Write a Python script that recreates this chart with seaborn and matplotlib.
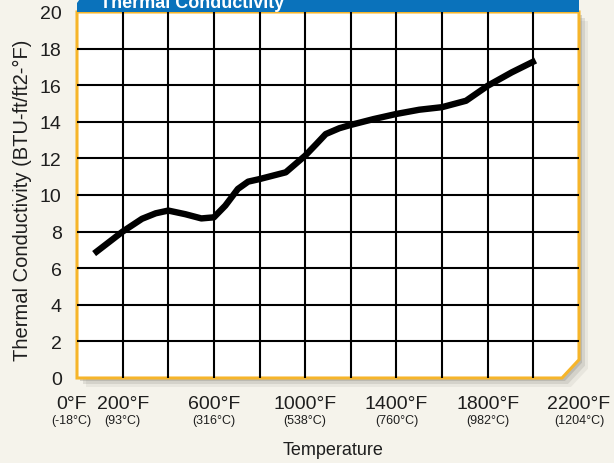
import matplotlib
matplotlib.use("Agg")
import matplotlib.pyplot as plt
import matplotlib.transforms as mtransforms
from matplotlib.patches import Polygon
import pandas as pd
import seaborn as sns

# values
temp_f = [75, 200, 285, 345, 400, 475, 545, 600, 650, 705, 750, 800, 915,
          1000, 1050, 1090, 1150, 1200, 1300, 1400, 1500, 1600, 1705, 1800,
          1905, 2010]
conductivity = [6.8, 8.0, 8.7, 9.0, 9.15, 8.95, 8.72, 8.78, 9.42, 10.33,
                10.73, 10.87, 11.24, 12.15, 12.8, 13.33, 13.65, 13.83, 14.15,
                14.43, 14.66, 14.8, 15.15, 15.97, 16.7, 17.35]

xtick_values = [0, 200, 600, 1000, 1400, 1800, 2200]
xtick_f = ["0°F", "200°F", "600°F", "1000°F", "1400°F", "1800°F", "2200°F"]
xtick_c = ["(-18°C)", "(93°C)", "(316°C)", "(538°C)", "(760°C)", "(982°C)",
           "(1204°C)"]
ytick_values = list(range(0, 21, 2))

BG = "#f5f3eb"
ORANGE = "#f6b52a"
BLUE = "#0a72bb"
INK = "#1e1e1e"

sns.set_theme(style="white")
plt.rcParams['font.family'] = ['Liberation Sans', 'DejaVu Sans']

fig = plt.figure(figsize=(6.14, 4.64), dpi=100, facecolor=BG)
ax = fig.add_axes([77 / 614, 85 / 464, 502 / 614, 366 / 464])
ax.patch.set_visible(False)
for s in ax.spines.values():
    s.set_visible(False)

# drop shadow behind the panel
px = 1 / 502
py = 1 / 366
for off, alpha in [(9, 0.12), (6, 0.22), (3, 0.35)]:
    sh = Polygon([(off * px, -off * py), (1 - 0.034 + off * px, -off * py),
                  (1 + off * px, 0.05 - off * py), (1 + off * px, 1 - off * py),
                  (off * px, 1 - off * py)],
                 closed=True, transform=ax.transAxes, facecolor="#8f8c84",
                 edgecolor="none", alpha=alpha, zorder=0, clip_on=False)
    ax.add_patch(sh)

panel = Polygon([(0, 0), (1 - 0.034, 0), (1, 0.05), (1, 1), (0, 1)],
                closed=True, transform=ax.transAxes, facecolor="white",
                edgecolor=ORANGE, linewidth=2.2, zorder=0.5, clip_on=False)
ax.add_patch(panel)

# grid
ax.set_xlim(0, 2200)
ax.set_ylim(0, 20)
for x in range(200, 2100, 200):
    ln = ax.axvline(x, color="black", linewidth=1.5, zorder=1)
    ln.set_clip_path(panel)
for y in ytick_values[1:-1]:
    ln = ax.axhline(y, color="black", linewidth=1.5, zorder=1)
    ln.set_clip_path(panel)

df = pd.DataFrame({"temp": temp_f, "k": conductivity})
sns.lineplot(data=df, x="temp", y="k", color="black", linewidth=4.6,
             ax=ax, zorder=3, solid_capstyle="butt", solid_joinstyle="round")
ax.set_xlabel("")
ax.set_ylabel("")

# ticks
ax.set_yticks(ytick_values)
ax.set_yticklabels([str(v) for v in ytick_values], fontsize=14, color=INK)
ax.tick_params(axis="y", length=0, pad=11)
ax.set_xticks(xtick_values)
ax.set_xticklabels([])
ax.tick_params(axis="x", which="both", length=0)

trans = mtransforms.blended_transform_factory(ax.transData, fig.transFigure)
for xv, f, c in zip(xtick_values, xtick_f, xtick_c):
    dx = -25 if xv == 0 else 0
    ax.text(xv + dx, (464 - 405) / 464, f, transform=trans, ha="center",
            va="center", fontsize=14, color=INK)
    ax.text(xv + dx, (464 - 421) / 464, c, transform=trans, ha="center",
            va="center", fontsize=9, color=INK)

fig.text(333 / 614, (464 - 451) / 464, "Temperature", ha="center",
         va="center", fontsize=13, color=INK)
fig.text(22 / 614, (464 - 200) / 464, "Thermal Conductivity (BTU-ft/ft2-°F)",
         ha="center", va="center", rotation=90, fontsize=14.5, color=INK)

# blue title banner, cut off by the top of the figure
top = 1 + 20 * py
banner = Polygon([(0, 1), (0, 1 + 9 * py), (8 * px, top), (1, top), (1, 1)],
                 closed=True, transform=ax.transAxes, facecolor=BLUE,
                 edgecolor="none", zorder=4, clip_on=False)
ax.add_patch(banner)
fig.text(100 / 614, (464 - 8) / 464, "Thermal Conductivity", ha="left",
         va="baseline", fontsize=13, fontweight="bold", color="white",
         zorder=5)

fig.savefig("out.png", dpi=100, facecolor=BG)
